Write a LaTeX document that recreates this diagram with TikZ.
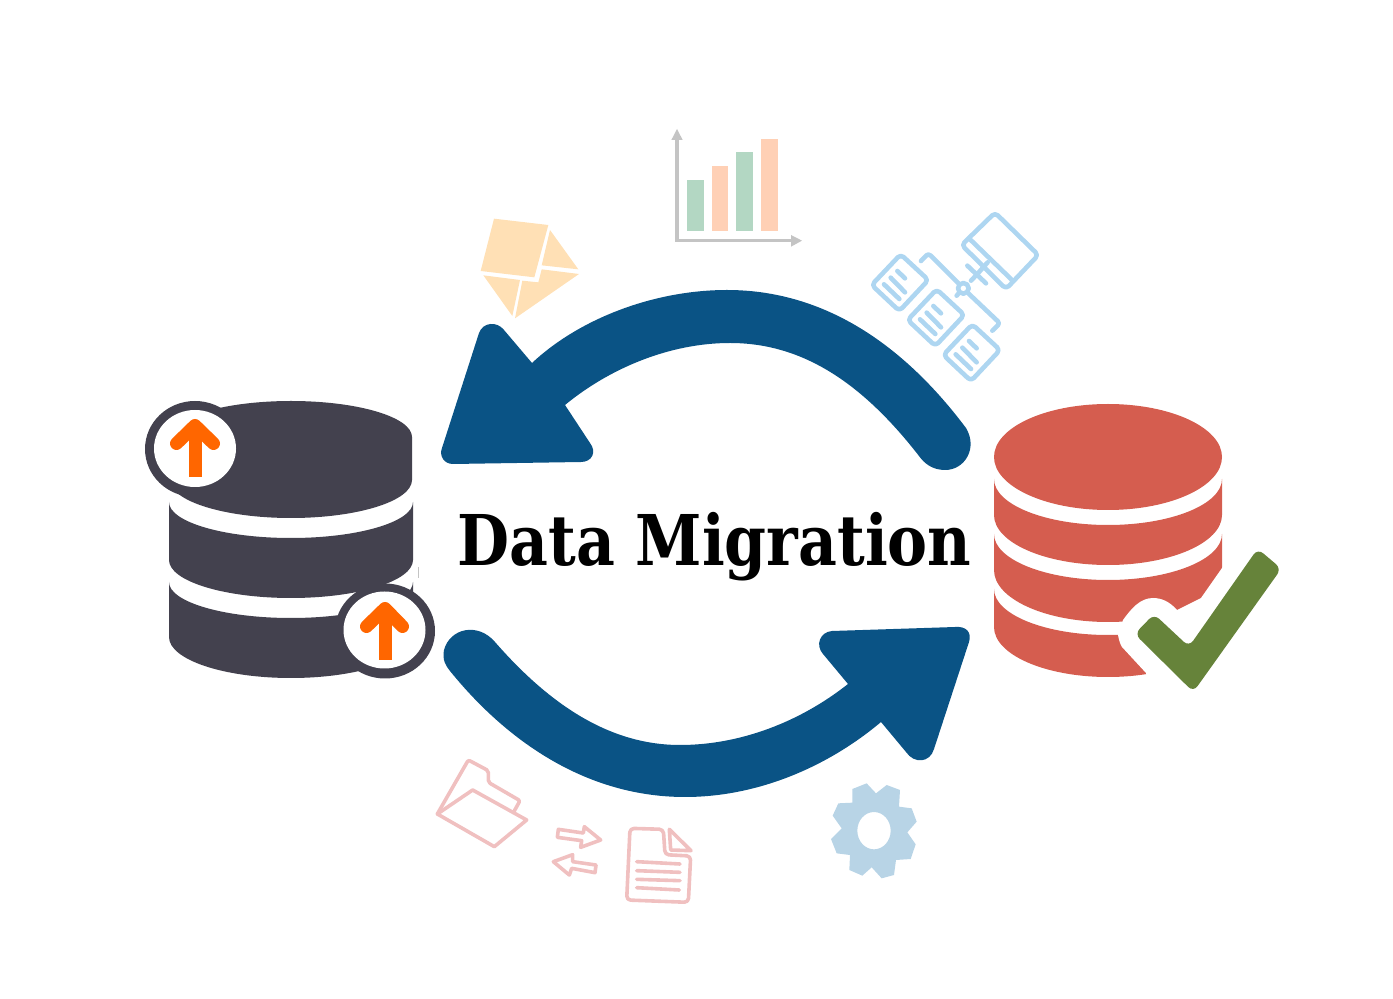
\documentclass[tikz,border=0pt]{standalone}
\usepackage{fontspec}
\newfontfamily\titlefont{DejaVu Serif}[BoldFont={DejaVu Serif Bold}]
\definecolor{dbdark}{HTML}{43414E}
\definecolor{dbred}{HTML}{D55D4F}
\definecolor{upor}{HTML}{FF6600}
\definecolor{bigblue}{HTML}{0A5385}
\definecolor{okgreen}{HTML}{66833A}
\definecolor{satblue}{HTML}{AED6F1}
\definecolor{gearblue}{HTML}{B8D4E6}
\definecolor{pinkline}{HTML}{F0C0C0}
\definecolor{envfill}{HTML}{FFE0B5}
\definecolor{axisgrey}{HTML}{C4C4C4}
\definecolor{bargreen}{HTML}{B3D7C3}
\definecolor{barorange}{HTML}{FFD0B5}
\newcommand{\dipcurve}[4]{.. controls ({#1-#2},{#3+.5523*(#4-(#3))}) and ({#1-.5523*#2},#4) .. (#1,#4) .. controls ({#1+.5523*#2},#4) and ({#1+#2},{#3+.5523*(#4-(#3))}) .. ({#1+#2},#3)}
\tikzset{
  zoomed/.style={x=0.16667pt,y=-0.16667pt},
  satline/.style={draw=satblue,line width=2.3pt,line cap=round,line join=round},
  pinkstroke/.style={draw=pinkline,line width=1.8pt,line cap=round,line join=round},
  upstem/.style={draw=upor,line width=6.5pt},
  uphead/.style={draw=upor,line width=6.5pt,line cap=round,line join=round},
}
\begin{document}
\begin{tikzpicture}[x=0.5pt,y=-0.5pt]
\useasboundingbox (0,0) rectangle (1393,999);
% left database
\fill[dbdark] (170,437) \dipcurve{291}{121}{437}{401} -- (412,480) \dipcurve{291}{-121}{480}{518} -- cycle;
\fill[dbdark] (169,502) \dipcurve{291}{122}{502}{538} -- (413,560) \dipcurve{291}{-122}{560}{598} -- cycle;
\fill[dbdark] (169,582) \dipcurve{291}{122}{582}{618} -- (413,637) \dipcurve{291}{-122}{637}{678} -- cycle;
\draw[axisgrey,line width=0.6pt] (418.5,567) -- (418.5,578);
% badges
\fill[dbdark] (195,449) ellipse [x radius=50,y radius=48];
\fill[white] (195,448.5) ellipse [x radius=41,y radius=38.5];
\fill[dbdark] (385,631) ellipse [x radius=50,y radius=47.5];
\fill[white] (384.5,630) ellipse [x radius=41,y radius=38.5];
\draw[upstem] (195,477) -- (195,430);
\draw[uphead] (176.5,443.5) -- (195,425.5) -- (213.5,443.5);
\draw[upstem] (385,660) -- (385,613);
\draw[uphead] (366.5,626.5) -- (385,608.5) -- (402.5,626.5);
% right database
\fill[dbred] (1108,457) ellipse [x radius=114,y radius=53];
\fill[dbred] (994,479) \dipcurve{1108}{114}{479}{525} -- (1222,515) \dipcurve{1108}{-114}{515}{565} -- cycle;
\fill[dbred] (994,534) \dipcurve{1108}{114}{534}{580} -- (1222,570) \dipcurve{1108}{-114}{570}{622} -- cycle;
\fill[dbred] (994,589) \dipcurve{1108}{114}{589}{635} -- (1222,627) \dipcurve{1108}{-114}{627}{677} -- cycle;
\fill[white] (1226,563) -- (1222,568) -- (1201,598) -- (1177,610)
  .. controls (1170,602) and (1162,598) .. (1153,598)
  .. controls (1140,598) and (1131,609) .. (1123,620) -- (1118,635)
  .. controls (1119,640) and (1120,644) .. (1122,647) -- (1146,673) -- (1150,695) -- (1240,695) -- (1240,563) -- cycle;
\begin{scope}[shift={(990,540)},zoomed]
\fill[okgreen,rounded corners=3.5pt] (434,282) -- (492,222) -- (597,320) -- (803,26) -- (874,86) -- (610,456) -- cycle;
\end{scope}
% upper big arrow
\fill[bigblue] (532,363) .. controls (580,318) and (655,290) .. (727,290)
  .. controls (820,290) and (900,340) .. (966,428)
  .. controls (978,448) and (965,470) .. (945,470)
  .. controls (932,470) and (924,463) .. (919,456)
  .. controls (860,380) and (800,343) .. (730,343)
  .. controls (670,343) and (610,368) .. (565,405)
  -- (590,443) .. controls (597,452) and (592,462) .. (581,462)
  -- (453,464) .. controls (444,464) and (439,456) .. (442,448)
  -- (479,333) .. controls (483,322) and (497,321) .. (504,330) -- cycle;
% lower big arrow
\fill[bigblue] (848,684) .. controls (800,722) and (740,745) .. (680,745)
  .. controls (610,745) and (550,705) .. (495,642)
  .. controls (478,622) and (450,628) .. (444,650)
  .. controls (442,660) and (446,666) .. (450,671)
  .. controls (510,745) and (590,797) .. (685,797)
  .. controls (760,797) and (830,765) .. (881,722)
  -- (906,752) .. controls (914,764) and (930,763) .. (934,749)
  -- (969,642) .. controls (972,632) and (966,626) .. (955,627)
  -- (832,631) .. controls (820,632) and (815,645) .. (823,654) -- cycle;
% title
\node[anchor=base west,inner sep=0pt,font=\titlefont\bfseries\fontsize{35}{35}\selectfont] (title) at (457,566) {\scalebox{0.857}[1]{Data Migration}};
% chart
\begin{scope}[shift={(470,120)},zoomed]
\draw[axisgrey,line width=1.7pt] (621,55) -- (621,362) -- (970,362);
\fill[axisgrey] (621,27) -- (604,60) -- (638,60) -- cycle;
\fill[axisgrey] (996,362) -- (963,345) -- (963,380) -- cycle;
\fill[bargreen] (652,180) rectangle (702,332);
\fill[barorange] (726,138) rectangle (775,332);
\fill[bargreen] (799,96) rectangle (850,332);
\fill[barorange] (874,57) rectangle (924,332);
% envelope
\fill[envfill] (72,296) -- (235,315) -- (193,472) -- (32,453) -- cycle;
\fill[envfill] (240,330) -- (325,448) -- (215,436) -- cycle;
\fill[envfill] (215,448) -- (327,462) -- (135,595) -- (157,482) -- (205,487) -- cycle;
\fill[envfill] (40,466) -- (150,480) -- (127,588) -- cycle;
\end{scope}
% satellite
\begin{scope}[shift={(860,200)},zoomed]
\draw[satline,rounded corners=2pt] (305,135) -- (405,38) -- (535,165) -- (438,267) -- cycle;
\draw[satline] (330,118) -- (458,242);
\draw[satline] (322,197) -- (378,250);
\draw[satline] (383,187) -- (352,222);
\draw[satline] (333,242) -- (352,222);
\draw[satline,rounded corners=1.5pt] (183,183) -- (205,160) -- (295,250);
\draw[satline,rounded corners=1.5pt] (325,280) -- (420,370) -- (397,392);
\draw[satline] (310,265) circle [x radius=16,y radius=16];
\draw[satline] (290,287) -- (298,278);
\foreach \dx/\dy in {0/0,108/105,215/210}{
  \begin{scope}[shift={(\dx,\dy)}]
  \draw[satline,rounded corners=2pt] (122,163) -- (205,240) -- (118,333) -- (35,255) -- cycle;
  \draw[satline] (112,213) -- (135,235);
  \draw[satline] (92,233) -- (135,277);
  \draw[satline] (72,253) -- (118,297);
  \end{scope}
}
\end{scope}
% folder, arrows, document
\begin{scope}[shift={(430,750)},zoomed]
\draw[pinkstroke,rounded corners=1pt] (22,192) -- (115,30) -- (175,62) -- (175,97) -- (270,152) -- (250,188);
\draw[pinkstroke] (22,192) -- (128,120) -- (290,210) -- (193,290) -- cycle;
\draw[pinkstroke] (385,238) -- (460,249) -- (463,230) -- (512,270) -- (452,292) -- (455,272) -- (382,262) -- cycle;
\draw[pinkstroke] (370,335) -- (428,314) -- (428,335) -- (498,345) -- (495,368) -- (425,355) -- (418,375) -- cycle;
\draw[pinkstroke,rounded corners=2pt] (600,235) -- (700,238) -- (705,314) -- (782,318) -- (775,457) -- (590,450) -- cycle;
\draw[pinkstroke] (718,238) -- (783,302) -- (722,300) -- cycle;
\draw[pinkstroke] (620,335) -- (750,342);
\draw[pinkstroke] (620,362) -- (750,367);
\draw[pinkstroke] (620,388) -- (750,392);
\draw[pinkstroke] (620,413) -- (748,420);
\end{scope}
% gear
\begin{scope}[shift={(820,775)},zoomed]
\fill[gearblue,even odd rule] (97,42) -- (140,25) -- (168,55) -- (200,30) -- (240,45) -- (237,95) -- (275,100) -- (290,140) -- (262,172) -- (287,208) -- (272,252) -- (228,255) -- (222,300) -- (185,310) -- (155,277) -- (127,302) -- (88,285) -- (90,240) -- (50,235) -- (33,192) -- (65,160) -- (38,122) -- (55,85) -- (97,83) -- cycle
  (162,167) ellipse [x radius=50,y radius=56];
\end{scope}
\end{tikzpicture}
\end{document}
